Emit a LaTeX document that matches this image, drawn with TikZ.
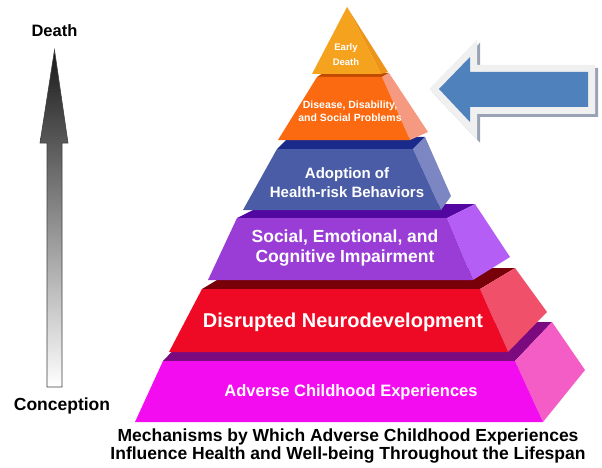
\documentclass[tikz,border=0pt]{standalone}
\usepackage{fontspec}
\setmainfont{Liberation Sans}
\definecolor{magF}{HTML}{F30CEF}
\definecolor{magS}{HTML}{F45CC6}
\definecolor{magT}{HTML}{7A0A7E}
\definecolor{redF}{HTML}{EE0A25}
\definecolor{redS}{HTML}{F0506A}
\definecolor{redT}{HTML}{780008}
\definecolor{purF}{HTML}{9A3DD6}
\definecolor{purS}{HTML}{B45EF5}
\definecolor{purT}{HTML}{5208A0}
\definecolor{bluF}{HTML}{4B5CA6}
\definecolor{bluS}{HTML}{7C86C2}
\definecolor{bluT}{HTML}{1A2A8A}
\definecolor{oraF}{HTML}{FB6A10}
\definecolor{oraS}{HTML}{F59A80}
\definecolor{oraT}{HTML}{C04A00}
\definecolor{yelF}{HTML}{F5A21E}
\definecolor{yelS}{HTML}{EE9418}
\definecolor{arrBlue}{HTML}{4F81BD}
\definecolor{arrRim}{HTML}{F0F0F0}
\definecolor{arrShade}{HTML}{9AA3B5}
\tikzset{
  tiertext/.style={text=white, font=\bfseries, align=center, inner sep=0pt},
  blacktext/.style={text=black, font=\bfseries, align=center, inner sep=0pt}
}
\begin{document}
\begin{tikzpicture}[x=1pt,y=-1pt]
\useasboundingbox[fill=white] (0,0) rectangle (602,468);

% ---- tier 1 magenta
\fill[magT] (163,361) -- (515,361) -- (552,322) -- (200,322) -- cycle;
\fill[magS] (515,361) -- (552,322) -- (585,370) -- (543,422) -- cycle;
\fill[magF] (135,422) -- (543,422) -- (515,361) -- (163,361) -- cycle;
% ---- tier 2 red
\fill[redT] (202,289) -- (480,289) -- (515,268) -- (237,268) -- cycle;
\fill[redS] (480,289) -- (515,268) -- (547,312) -- (508,352) -- cycle;
\fill[redF] (169,352) -- (508,352) -- (480,289) -- (202,289) -- cycle;
% ---- tier 3 purple
\fill[purT] (237,218) -- (447,218) -- (475,204) -- (265,204) -- cycle;
\fill[purS] (447,218) -- (475,204) -- (510,257) -- (473,280) -- cycle;
\fill[purF] (208,280) -- (473,280) -- (447,218) -- (237,218) -- cycle;
% ---- tier 4 blue
\fill[bluT] (277,149) -- (413,149) -- (425,137) -- (289,137) -- cycle;
\fill[bluS] (413,149) -- (425,137) -- (451,196) -- (441,210) -- cycle;
\fill[bluF] (243,210) -- (441,210) -- (413,149) -- (277,149) -- cycle;
% ---- tier 5 orange
\fill[oraT] (317,77) -- (382,77) -- (389,73) -- (323,73) -- cycle;
\fill[oraS] (382,77) -- (389,73) -- (428,132) -- (410,140) -- cycle;
\fill[oraF] (278,140) -- (410,140) -- (382,77) -- (317,77) -- cycle;
% ---- tier 6 yellow
\fill[yelS] (347,7) -- (381,74) -- (388,72) -- cycle;
\fill[yelF] (312,74) -- (381,74) -- (347,7) -- cycle;

% ---- tier texts
\node[tiertext, font=\bfseries\fontsize{9.5}{15}\selectfont] (tEarly) at (346,54.5) {Early\\Death};
\node[tiertext, font=\bfseries\fontsize{10.5}{13}\selectfont] (tDisease) at (350,111.5) {Disease, Disability,\\and Social Problems};
\node[tiertext, font=\bfseries\fontsize{15}{19}\selectfont] (tAdopt) at (347,182.5) {Adoption of\\Health-risk Behaviors};
\node[tiertext, font=\bfseries\fontsize{17.5}{20}\selectfont] (tSocial) at (345,248) {Social, Emotional, and\\Cognitive Impairment};
\node[tiertext, font=\bfseries\fontsize{20}{24}\selectfont] (tNeuro) at (343,322) {Disrupted Neurodevelopment};
\node[tiertext, font=\bfseries\fontsize{16.5}{20}\selectfont] (tAce) at (351,392) {Adverse Childhood Experiences};

% ---- caption
\node[blacktext, font=\bfseries\fontsize{17.5}{18}\selectfont] (caption) at (348,446) {Mechanisms by Which Adverse Childhood Experiences\\Influence Health and Well-being Throughout the Lifespan};

% ---- left gradient arrow
\path[draw=black!75, line width=0.6pt, top color=black!90, bottom color=white]
  (47,387) -- (62,387) -- (62,143) -- (68,143) -- (54.5,50) -- (40,143) -- (47,143) -- cycle;
\node[blacktext, font=\bfseries\fontsize{16.5}{20}\selectfont] (death) at (54.5,31) {Death};
\node[blacktext, font=\bfseries\fontsize{17.5}{20}\selectfont] (conception) at (62,406) {Conception};

% ---- right block arrow
\path[fill=arrShade, draw=arrShade, line width=14pt, line join=miter, miter limit=10]
  (442,92) -- (473,60) -- (473,75) -- (591,75) -- (591,110) -- (473,110) -- (473,125) -- cycle;
\path[fill=arrRim, draw=arrRim, line width=14pt, line join=miter, miter limit=10]
  (439,89) -- (470,57) -- (470,72) -- (588,72) -- (588,107) -- (470,107) -- (470,122) -- cycle;
\fill[arrBlue] (439,89) -- (470,57) -- (470,72) -- (588,72) -- (588,107) -- (470,107) -- (470,122) -- cycle;
\end{tikzpicture}
\end{document}
